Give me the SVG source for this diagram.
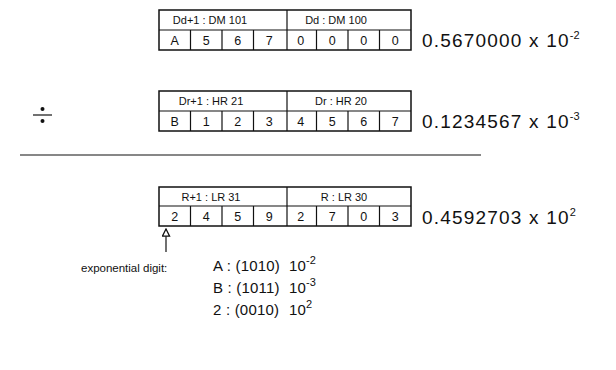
<svg xmlns="http://www.w3.org/2000/svg" width="616" height="370" viewBox="0 0 616 370">
<defs>
<style>
.box{fill:#fff;stroke:#111;stroke-width:1.5}
.ln{stroke:#111;stroke-width:1.2;fill:none}
.hd{font-family:"Liberation Sans",Arial,sans-serif;font-size:11px;fill:#111;text-anchor:middle}
.dg{font-family:"Liberation Sans",Arial,sans-serif;font-size:12.5px;fill:#111;text-anchor:middle}
.val{font-family:"Liberation Sans",Arial,sans-serif;font-size:19px;letter-spacing:1.2px;fill:#111}
.sup{font-size:11px;letter-spacing:0}
.lg{font-family:"Liberation Sans",Arial,sans-serif;font-size:15px;letter-spacing:0.2px;fill:#111}
.sm{font-family:"Liberation Sans",Arial,sans-serif;font-size:11.5px;fill:#111}
</style>
<marker id="ah" viewBox="0 0 10 10" refX="9" refY="5" markerWidth="9" markerHeight="9" orient="auto" markerUnits="userSpaceOnUse">
<path d="M1,1 L9,5 L1,9 Z" fill="#fff" stroke="#111" stroke-width="1.4"/>
</marker>
</defs>
<rect width="616" height="370" fill="#fff"/>

<g id="dividend">
<rect class="box" x="159" y="10" width="252" height="40"/>
<path class="ln" d="M159,30 H411 M287,10 V50 M190.5,30 V50 M222,30 V50 M253.5,30 V50 M316.5,30 V50 M348,30 V50 M379.5,30 V50"/>
<text class="hd" x="210" y="24">Dd+1 : DM 101</text>
<text class="hd" x="336" y="24">Dd : DM 100</text>
<text class="dg" x="174.75" y="45">A</text>
<text class="dg" x="206.25" y="45">5</text>
<text class="dg" x="237.75" y="45">6</text>
<text class="dg" x="269.25" y="45">7</text>
<text class="dg" x="300.75" y="45">0</text>
<text class="dg" x="332.25" y="45">0</text>
<text class="dg" x="363.75" y="45">0</text>
<text class="dg" x="395.25" y="45">0</text>
<text class="val" x="422" y="47">0.5670000 x 10<tspan class="sup" dy="-8">-2</tspan></text>
</g>

<g id="divisor">
<rect class="box" x="159" y="91" width="252" height="40"/>
<path class="ln" d="M159,111 H411 M287,91 V131 M190.5,111 V131 M222,111 V131 M253.5,111 V131 M316.5,111 V131 M348,111 V131 M379.5,111 V131"/>
<text class="hd" x="211" y="105">Dr+1 : HR 21</text>
<text class="hd" x="341" y="105">Dr : HR 20</text>
<text class="dg" x="174.75" y="126">B</text>
<text class="dg" x="206.25" y="126">1</text>
<text class="dg" x="237.75" y="126">2</text>
<text class="dg" x="269.25" y="126">3</text>
<text class="dg" x="300.75" y="126">4</text>
<text class="dg" x="332.25" y="126">5</text>
<text class="dg" x="363.75" y="126">6</text>
<text class="dg" x="395.25" y="126">7</text>
<text class="val" x="422" y="128">0.1234567 x 10<tspan class="sup" dy="-8">-3</tspan></text>
</g>

<g id="divide-sign">
<line class="ln" x1="33" y1="115" x2="52" y2="115" stroke-width="1.6"/>
<circle cx="42.5" cy="109" r="2" fill="#111"/>
<circle cx="42.5" cy="121" r="2" fill="#111"/>
</g>

<g id="rule">
<line class="ln" x1="20" y1="155" x2="481" y2="155" stroke-width="1.6"/>
</g>

<g id="result">
<rect class="box" x="159" y="187" width="252" height="39"/>
<path class="ln" d="M159,206 H411 M287,187 V226 M190.5,206 V226 M222,206 V226 M253.5,206 V226 M316.5,206 V226 M348,206 V226 M379.5,206 V226"/>
<text class="hd" x="211" y="201">R+1 : LR 31</text>
<text class="hd" x="344" y="201">R : LR 30</text>
<text class="dg" x="174.75" y="221">2</text>
<text class="dg" x="206.25" y="221">4</text>
<text class="dg" x="237.75" y="221">5</text>
<text class="dg" x="269.25" y="221">9</text>
<text class="dg" x="300.75" y="221">2</text>
<text class="dg" x="332.25" y="221">7</text>
<text class="dg" x="363.75" y="221">0</text>
<text class="dg" x="395.25" y="221">3</text>
<text class="val" x="422" y="224">0.4592703 x 10<tspan class="sup" dy="-8">2</tspan></text>
</g>

<g id="connectors">
<line class="ln" x1="166" y1="252" x2="166" y2="229" marker-end="url(#ah)"/>
</g>

<g id="legend">
<text class="sm" x="81" y="272">exponential digit:</text>
<text class="lg" x="213" y="271">A : (1010)<tspan x="289">10</tspan><tspan class="sup" dy="-7">-2</tspan></text>
<text class="lg" x="213" y="293">B : (1011)<tspan x="289">10</tspan><tspan class="sup" dy="-7">-3</tspan></text>
<text class="lg" x="213" y="315">2 : (0010)<tspan x="289">10</tspan><tspan class="sup" dy="-7">2</tspan></text>
</g>
</svg>
